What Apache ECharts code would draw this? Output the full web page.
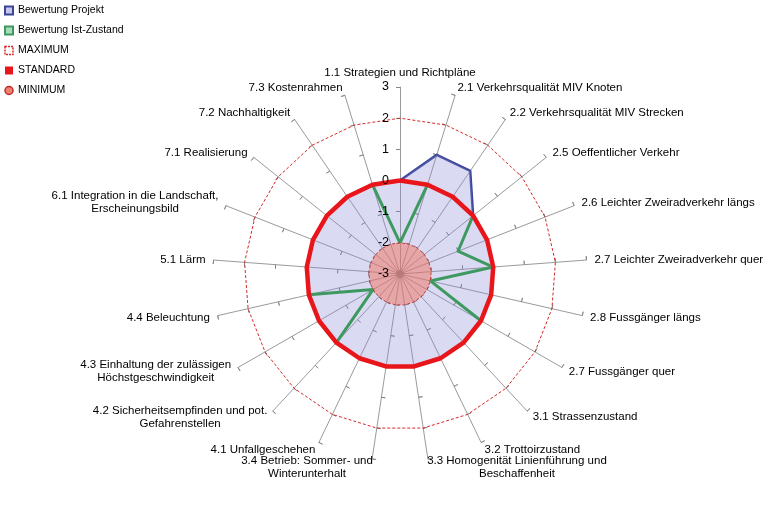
<!DOCTYPE html>
<html>
<head>
<meta charset="utf-8">
<script src="https://cdn.jsdelivr.net/npm/echarts@6/dist/echarts.min.js"></script>
<style>html,body{margin:0;padding:0;background:#fff}#c{width:768px;height:512px}</style>
</head>
<body>
<div id="c"></div>
<script>
// Categories in clockwise order starting at the top
var categories = [
  '1.1 Strategien und Richtpläne',
  '2.1 Verkehrsqualität MIV Knoten',
  '2.2 Verkehrsqualität MIV Strecken',
  '2.5 Oeffentlicher Verkehr',
  '2.6 Leichter Zweiradverkehr längs',
  '2.7 Leichter Zweiradverkehr quer',
  '2.8 Fussgänger längs',
  '2.7 Fussgänger quer',
  '3.1 Strassenzustand',
  '3.2 Trottoirzustand',
  '3.3 Homogenität Linienführung und\nBeschaffenheit',
  '3.4 Betrieb: Sommer- und\nWinterunterhalt',
  '4.1 Unfallgeschehen',
  '4.2 Sicherheitsempfinden und pot.\nGefahrenstellen',
  '4.3 Einhaltung der zulässigen\nHöchstgeschwindigkeit',
  '4.4 Beleuchtung',
  '5.1 Lärm',
  '6.1 Integration in die Landschaft,\nErscheinungsbild',
  '7.1 Realisierung',
  '7.2 Nachhaltigkeit',
  '7.3 Kostenrahmen'
];
var projekt  = [0, 1, 1, 0, 0, 0, 0, 0, 0, 0, 0, 0, 0, 0, 0, 0, 0, 0, 0, 0, 0];
var istZustand = [-2, 0, 0, 0, -1, 0, -2, 0, 0, 0, 0, 0, 0, 0, -2, 0, 0, 0, 0, 0, 0];
var maximum  = [2, 2, 2, 2, 2, 2, 2, 2, 2, 2, 2, 2, 2, 2, 2, 2, 2, 2, 2, 2, 2];
var standard = [0, 0, 0, 0, 0, 0, 0, 0, 0, 0, 0, 0, 0, 0, 0, 0, 0, 0, 0, 0, 0];
var minimum  = [-2, -2, -2, -2, -2, -2, -2, -2, -2, -2, -2, -2, -2, -2, -2, -2, -2, -2, -2, -2, -2];
var axisMin = -3, axisMax = 3, axisStep = 1;

// ECharts radar goes counter-clockwise: reorder to get clockwise layout
function cw(arr) { return [arr[0]].concat(arr.slice(1).reverse()); }

var FONT = "'Liberation Sans', Arial, sans-serif";
// names whose text hangs below the axis end (bottom of the chart)
var hanging = { 10: true, 11: true };

function indicators(withLabel) {
  var list = categories.map(function (n, i) {
    var o = { name: n, min: axisMin, max: axisMax, interval: axisStep };
    if (withLabel && i === 0) o.axisLabel = { show: true };
    if (hanging[i]) { o.nameGap = -5; o.nameTextStyle = { verticalAlign: 'top' }; }
    return o;
  });
  return cw(list);
}

var chart = echarts.init(document.getElementById('c'), null, { renderer: 'canvas' });

var common = {
  center: [400, 274],
  radius: 187,
  startAngle: 90,
  splitNumber: 6,
  shape: 'polygon',
  splitLine: { show: false },
  splitArea: { show: false }
};

var option = {
  backgroundColor: '#fff',
  animation: false,
  legend: {
    orient: 'vertical',
    left: 4,
    top: 5,
    padding: 0,
    itemWidth: 8,
    itemHeight: 8,
    itemGap: 9,
    itemTextGap: 1,
    textStyle: { color: '#000', fontSize: 10.5, fontFamily: FONT },
    data: [
      { name: 'Bewertung Projekt', icon: 'rect', itemStyle: { color: '#c6c7ea', borderColor: '#3b4598', borderWidth: 2 } },
      { name: 'Bewertung Ist-Zustand', icon: 'rect', itemStyle: { color: '#a8dcb8', borderColor: '#3d9960', borderWidth: 2 } },
      { name: 'MAXIMUM', icon: 'rect', itemStyle: { color: '#fff', borderColor: '#d42a2a', borderWidth: 1.5, borderType: [2, 1] } },
      { name: 'STANDARD', icon: 'rect', itemStyle: { color: '#e8161b', borderColor: '#e8161b', borderWidth: 0 } },
      { name: 'MINIMUM', icon: 'circle', itemStyle: { color: '#f08070', borderColor: '#c02a2a', borderWidth: 1.5 } }
    ]
  },
  radar: [
    Object.assign({}, common, {
      indicator: indicators(false),
      nameGap: 8,
      axisName: {
        color: '#000',
        fontSize: 11.5,
        fontFamily: FONT,
        lineHeight: 13,
        formatter: function (v) {
          return v.split('\n').map(function (s) { return '{c|' + s + '}'; }).join('\n');
        },
        rich: { c: { align: 'center', fontSize: 11.5, fontFamily: FONT, color: '#000', lineHeight: 13 } }
      },
      axisLine: { show: true, lineStyle: { color: '#808080', width: 0.8 } },
      axisTick: { show: true, length: 4, lineStyle: { color: '#808080', width: 0.8 } },
      axisLabel: { show: false }
    }),
    Object.assign({}, common, {
      indicator: indicators(false),
      axisName: { show: false },
      axisLine: { show: false },
      axisTick: { show: true, inside: true, length: 4, lineStyle: { color: '#808080', width: 0.8 } },
      axisLabel: { show: false }
    }),
    // value labels on the top axis, drawn above the series
    Object.assign({}, common, {
      z: 10,
      indicator: indicators(true),
      axisName: { show: false },
      axisLine: { show: false },
      axisTick: { show: false },
      axisLabel: { show: false, color: '#000', fontSize: 12.5, fontFamily: FONT, margin: 11, align: 'right' }
    })
  ],
  series: [
    {
      type: 'radar', name: 'Bewertung Projekt', radarIndex: 0, symbol: 'none', z: 2,
      data: [{ name: 'Bewertung Projekt', value: cw(projekt),
        lineStyle: { color: '#3b4598', width: 2.5 },
        itemStyle: { color: '#3b4598' },
        areaStyle: { color: 'rgba(140,140,215,0.45)' } }]
    },
    {
      type: 'radar', name: 'Bewertung Ist-Zustand', radarIndex: 0, symbol: 'none', z: 3,
      data: [{ name: 'Bewertung Ist-Zustand', value: cw(istZustand),
        lineStyle: { color: '#3d9960', width: 3 },
        itemStyle: { color: '#3d9960' } }]
    },
    {
      type: 'radar', name: 'STANDARD', radarIndex: 0, symbol: 'none', z: 4,
      data: [{ name: 'STANDARD', value: cw(standard),
        lineStyle: { color: '#e8161b', width: 4.5 },
        itemStyle: { color: '#e8161b' } }]
    },
    {
      type: 'radar', name: 'MAXIMUM', radarIndex: 0, symbol: 'none', z: 4,
      data: [{ name: 'MAXIMUM', value: cw(maximum),
        lineStyle: { color: '#d42a2a', width: 1, type: [3, 2] },
        itemStyle: { color: '#d42a2a' } }]
    },
    {
      type: 'radar', name: 'MINIMUM', radarIndex: 0, symbol: 'none', z: 5,
      data: [{ name: 'MINIMUM', value: cw(minimum),
        lineStyle: { color: '#b02a2a', width: 1, type: [3, 2] },
        itemStyle: { color: '#b02a2a' },
        areaStyle: { color: 'rgba(245,110,85,0.68)' } }]
    }
  ]
};
chart.setOption(option);
</script>
</body>
</html>
